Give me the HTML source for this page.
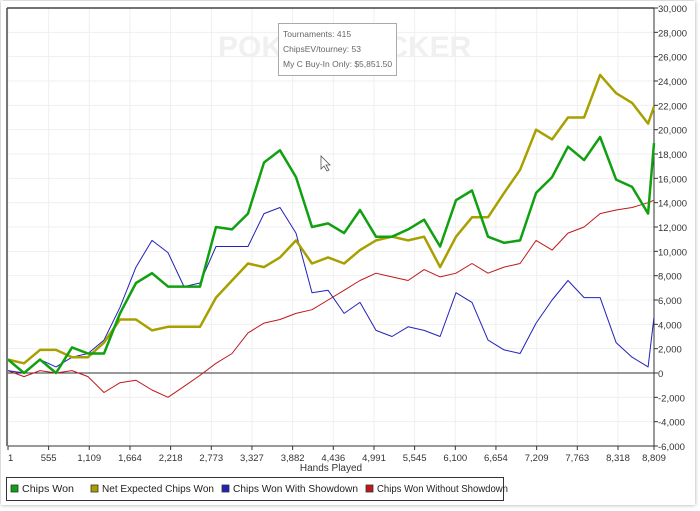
<!DOCTYPE html>
<html><head><meta charset="utf-8"><style>
body{margin:0;background:#fff;width:700px;height:511px;overflow:hidden;font-family:"Liberation Sans",sans-serif;}
#frame{position:absolute;left:1px;top:1px;width:694px;height:504px;box-shadow:0 0 4px rgba(0,0,0,0.35);background:#fff;}
</style></head><body>
<div id="frame"></div>
<svg id="chart" width="700" height="511" style="position:absolute;left:0;top:0"></svg>
<script>
const hands=[1,219,437,655,874,1092,1310,1528,1746,1964,2183,2401,2619,2837,3055,3274,3492,3710,3928,4146,4365,4583,4801,5019,5237,5456,5674,5892,6110,6328,6546,6765,6983,7201,7419,7637,7856,8074,8292,8510,8728,8809];
const chipsWon=[1100,0,1100,0,2100,1600,1600,4900,7400,8200,7100,7100,7100,12000,11800,13100,17300,18300,16100,12000,12300,11500,13400,11200,11200,11800,12600,10400,14200,15000,11200,10700,10900,14800,16100,18600,17500,19400,15900,15300,13100,18900];
const netExpected=[1100,800,1900,1900,1300,1300,2500,4400,4400,3500,3800,3800,3800,6200,7600,9000,8700,9500,10900,9000,9500,9000,10100,10900,11200,10900,11200,8700,11200,12800,12800,14800,16700,20000,19200,21000,21000,24500,23000,22200,20500,21900];
const withShowdown=[200,0,1100,500,1300,1600,2700,5400,8700,10900,9900,7100,7400,10400,10400,10400,13100,13600,11500,6600,6800,4900,5800,3500,3000,3800,3500,3000,6600,5800,2700,1900,1600,4100,6000,7600,6200,6200,2500,1300,500,4600];
const withoutShowdown=[200,-300,200,0,200,-300,-1600,-800,-600,-1400,-2000,-1100,-200,800,1600,3300,4100,4400,4900,5200,6000,6800,7600,8200,7900,7600,8500,7900,8200,9000,8200,8700,9000,10900,10100,11500,12000,13100,13400,13600,14000,14200];
const xTicks=[1,555,1109,1664,2218,2773,3327,3882,4436,4991,5545,6100,6654,7209,7763,8318,8809];
const yTicks=[-6000,-4000,-2000,0,2000,4000,6000,8000,10000,12000,14000,16000,18000,20000,22000,24000,26000,28000,30000];
const X0=8,X1=654,Y0=8,Y1=446,HMIN=1,HMAX=8809,VMIN=-6000,VMAX=30000;
const sx=h=>X0+(h-HMIN)/(HMAX-HMIN)*(X1-X0);
const sy=v=>Y1-(v-VMIN)/(VMAX-VMIN)*(Y1-Y0);
const NS='http://www.w3.org/2000/svg';
const svg=document.getElementById('chart');
function mk(tag,attrs,parent){const e=document.createElementNS(NS,tag);for(const k in attrs)e.setAttribute(k,attrs[k]);(parent||svg).appendChild(e);return e;}
const fmt=v=>v.toLocaleString('en-US');
yTicks.forEach(v=>{const l=mk('line',{x1:X0,x2:X1,y1:sy(v),y2:sy(v),stroke:'#efefef','stroke-width':1});

});
xTicks.forEach(h=>{const l=mk('line',{x1:sx(h),x2:sx(h),y1:Y0,y2:Y1,stroke:'#efefef','stroke-width':1});

});
const wm=mk('text',{x:218,y:57,'font-size':30,fill:'#f0f0f0','font-weight':'bold'});wm.textContent='POKERTRACKER';


const bl=mk('line',{x1:7,x2:7,y1:Y0,y2:Y1,stroke:'#777','stroke-width':2});


const bt=mk('line',{x1:7,x2:X1,y1:8,y2:8,stroke:'#444','stroke-width':1.5});


const ax=mk('line',{x1:X0,x2:X1,y1:Y1,y2:Y1,stroke:'#333','stroke-width':1});


const ay=mk('line',{x1:X1,x2:X1,y1:Y0,y2:Y1,stroke:'#333','stroke-width':1});


const zl=mk('line',{x1:X0,x2:X1,y1:sy(0),y2:sy(0),stroke:'#333','stroke-width':1});


yTicks.forEach(v=>{mk('line',{x1:X1,x2:X1+4,y1:sy(v),y2:sy(v),stroke:'#333'});
const t=mk('text',{x:X1+4,y:sy(v)+4,'font-size':9.5,fill:'#333'});t.textContent=fmt(v);

});
xTicks.forEach(h=>{mk('line',{x1:sx(h),x2:sx(h),y1:Y1,y2:Y1+4,stroke:'#333'});
const t=mk('text',{x:sx(h),y:Y1+15,'font-size':9.5,fill:'#333','text-anchor':h===1?'start':'middle'});t.textContent=fmt(h);

});
const xt=mk('text',{x:331,y:471,'font-size':10,fill:'#333','text-anchor':'middle'});xt.textContent='Hands Played';


const series=[[withoutShowdown,'#c0181a',1,'series-chips-won-without-showdown'],[withShowdown,'#2222bb',1,'series-chips-won-with-showdown'],[netExpected,'#a8a000',2.5,'series-net-expected-chips-won'],[chipsWon,'#10a010',2.5,'series-chips-won']];
series.forEach(([d,c,w,n])=>{const p=mk('path',{d:d.map((v,i)=>(i?'L':'M')+sx(hands[i]).toFixed(1)+' '+sy(v).toFixed(1)).join(''),fill:'none',stroke:c,'stroke-width':w,'stroke-linejoin':'round'});

});
const tb=mk('rect',{x:278.5,y:23.5,width:118,height:52,fill:'#fff',stroke:'#aaa'});


['Tournaments: 415','ChipsEV/tourney: 53','My C Buy-In Only: $5,851.50'].forEach((s,i)=>{const t=mk('text',{x:283,y:37+i*15,'font-size':8.5,fill:'#666'});t.textContent=s;

});
const cur=mk('path',{d:'M321 156 L321 169 L324 166 L327 171 L329 170 L326 165 L330 165 Z',fill:'#fff',stroke:'#555','stroke-width':0.8});


const lg=mk('rect',{x:6.5,y:477.5,width:497,height:23,fill:'#fff',stroke:'#333'});


[['Chips Won','#10a010',11,52],['Net Expected Chips Won','#a8a000',91,112],['Chips Won With Showdown','#2222bb',222,125],['Chips Won Without Showdown','#c0181a',366,131]].forEach(([s,c,x,w])=>{
const g=mk('g',{});


mk('rect',{x:x,y:485,width:7,height:7,fill:c,stroke:'#333','stroke-width':0.8},g);
const t=mk('text',{x:x+11,y:492,'font-size':10,fill:'#222',textLength:w,lengthAdjust:'spacingAndGlyphs'},g);t.textContent=s;});
</script>
</body></html>
